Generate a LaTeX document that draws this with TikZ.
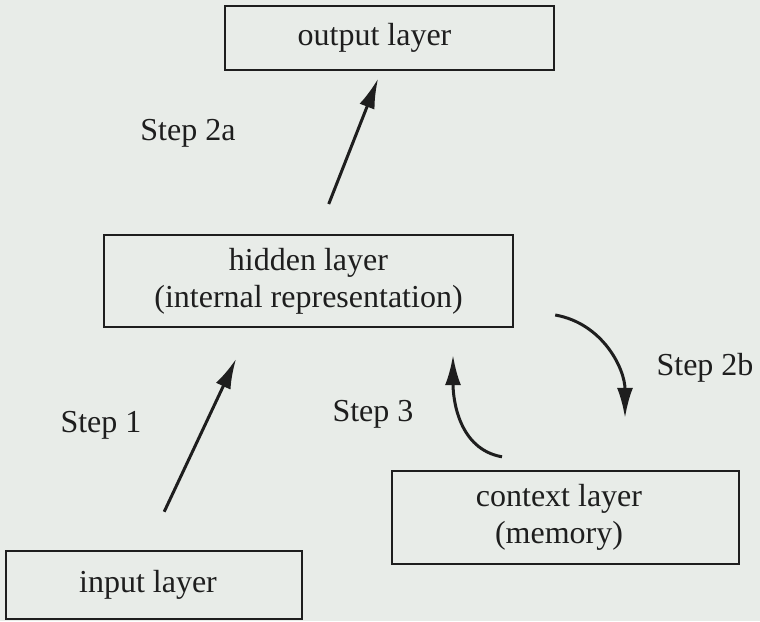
\documentclass[tikz,border=0pt]{standalone}
\usepackage{fontspec}
\setmainfont{Liberation Serif}
\usetikzlibrary{arrows.meta}
\definecolor{paper}{RGB}{232,236,232}
\definecolor{ink}{RGB}{30,30,30}
\tikzset{larrow/.style = {-{Latex[length=15pt,width=8pt]}, line width=1.5pt, draw=ink}}
\tikzset{layer/.style = {draw=ink, line width=1.2pt, align=center, inner sep=0pt}}

\begin{document}
\begin{tikzpicture}[x=0.5pt, y=-0.5pt, font=\fontsize{16pt}{18.5pt}\selectfont, text=ink]
    \useasboundingbox (0,0) rectangle (760,621);
    \fill[paper] (0,0) rectangle (760,621);

    \node[layer, minimum width=164.5pt, minimum height=32pt] (out) at (389.5,38) {output layer\hspace*{15pt}};
    \node[layer, minimum width=204.5pt, minimum height=46pt] (hid) at (308.5,281) {hidden layer\\(internal representation)};
    \node[layer, minimum width=148pt, minimum height=34pt] (inp) at (154,585) {input layer\hspace*{6pt}};
    \node[layer, minimum width=173.5pt, minimum height=46.5pt] (ctx) at (565.5,517.5) {context layer\hspace*{6.5pt}\\(memory)\hspace*{6.5pt}};

    \node (s2a) at (188,133) {Step 2a};
    \node (s1) at (101,425) {Step 1};
    \node (s3) at (373,414) {Step 3};
    \node (s2b) at (705,368) {Step 2b};

    \draw[larrow, shorten <=21pt, shorten >=17pt] ([xshift=-3.85pt]inp.north) -- ([xshift=-29pt]hid.south);
    \draw[larrow, shorten <=16pt, shorten >=4pt] ([xshift=4.25pt]hid.north) -- ([xshift=-4.25pt]out.south);
    \draw[larrow] ([xshift=20.5pt,yshift=-17pt]hid.east) to[out=-10,in=90] ([xshift=29.75pt,yshift=26pt]ctx.north);
    \draw[larrow] ([xshift=-31.75pt,yshift=6.5pt]ctx.north) to[out=170,in=-90] ([xshift=72.25pt,yshift=-13.5pt]hid.south);
\end{tikzpicture}
\end{document}
